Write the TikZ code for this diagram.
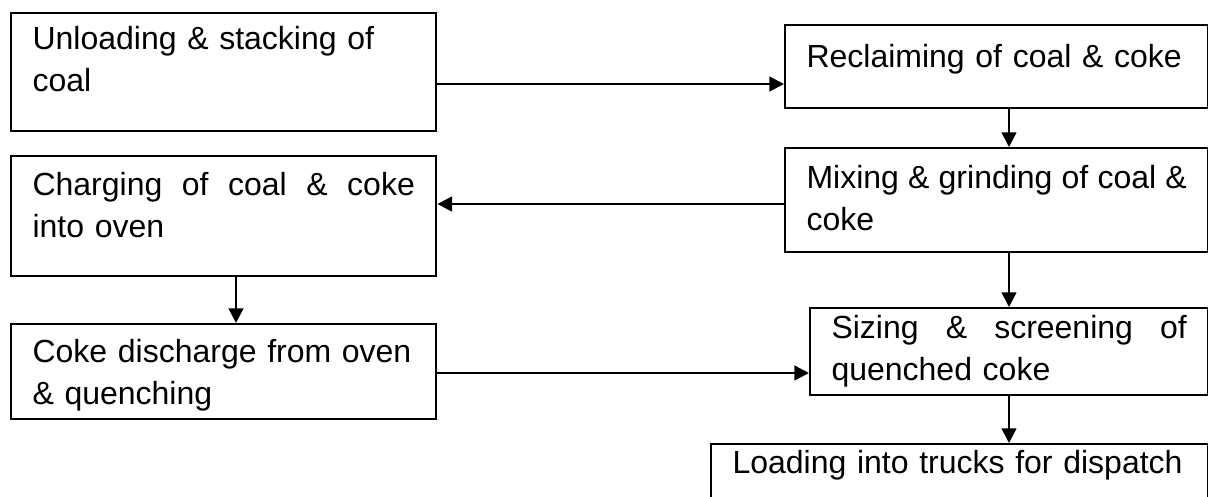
\documentclass[tikz,border=0pt]{standalone}
\usepackage{fontspec}
\setmainfont{Liberation Sans}
\usetikzlibrary{arrows.meta}
\begin{document}
\begin{tikzpicture}[x=.375pt,y=-.375pt,
  box/.style={draw,line width=.9pt,anchor=north west,align=left,inner xsep=8pt,inner ysep=0pt,font=\fontsize{12}{15.75}\selectfont},
  flow/.style={line width=.9pt,-{Triangle[length=5.5pt,width=5.5pt]}}]
  \clip (0,0) rectangle (1208,496);
  % left column
  \node[box,text width=143.375pt,text height=13.5pt,text depth=30.75pt] (unload) at (10,12) {Unloading \& stacking of\\coal};
  \node[box,text width=143.375pt,text height=14.625pt,text depth=30.375pt] (charging) at (10,155) {Charging \hfill of \hfill coal \hfill \& \hfill coke\\into oven};
  \node[box,text width=143.375pt,text height=14.25pt,text depth=21.375pt] (cokedis) at (10,323) {Coke discharge from oven\\\& quenching};
  % right column
  \node[box,text width=142.625pt,text height=15.75pt,text depth=15.375pt] (reclaim) at (784,24) {Reclaiming of coal \& coke};
  \node[box,text width=142.625pt,text height=15pt,text depth=24pt] (mixing) at (784,147) {Mixing\hfill\&\hfill grinding\hfill of\hfill coal\hfill\&\\coke};
  \node[box,text width=133.25pt,text height=11.25pt,text depth=21.375pt] (sizing) at (809,307) {Sizing \hfill \& \hfill screening \hfill of\\quenched coke};
  \node[box,text width=170.375pt,text height=10.875pt,text depth=18pt] (loading) at (710,443) {Loading into trucks for dispatch};
  % connectors
  \draw[flow] (unload.east |- 0,84) -- (reclaim.west |- 0,84);
  \draw[flow] (reclaim.south -| 1009,0) -- (mixing.north -| 1009,0);
  \draw[flow] (mixing.west |- 0,204) -- (charging.east |- 0,204);
  \draw[flow] (charging.south -| 236,0) -- (cokedis.north -| 236,0);
  \draw[flow] (mixing.south -| 1009,0) -- (sizing.north -| 1009,0);
  \draw[flow] (cokedis.east |- 0,373) -- (sizing.west |- 0,373);
  \draw[flow] (sizing.south -| 1009,0) -- (loading.north -| 1009,0);
\end{tikzpicture}
\end{document}
